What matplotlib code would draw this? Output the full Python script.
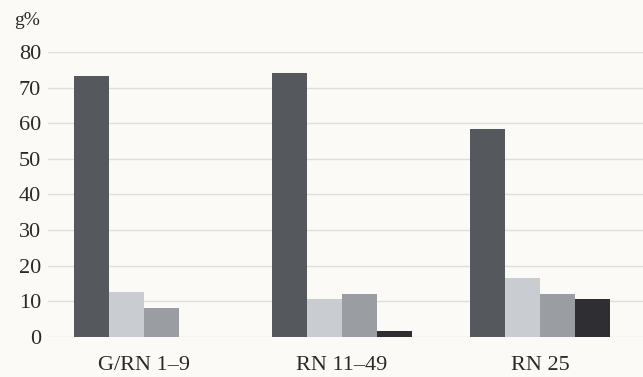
import numpy as np
import matplotlib
matplotlib.use("Agg")
from matplotlib import pyplot as plt

# ---------------- data ----------------
categories = ["G/RN 1–9", "RN 11–49", "RN 25"]
series_1 = [73.3, 74.1, 58.4]   # dunkelgrau
series_2 = [12.7, 10.6, 16.6]   # hellgrau
series_3 = [8.2, 12.0, 12.1]    # mittelgrau
series_4 = [0.0, 1.7, 10.6]     # schwarz
yticks = [0, 10, 20, 30, 40, 50, 60, 70, 80]

colors = ["#55595e", "#c9ccd0", "#9a9ea2", "#2f2f33"]
bg = "#fbfaf6"

plt.rcParams['font.family'] = ['Liberation Serif', 'DejaVu Serif']

fig = plt.figure(figsize=(6.43, 3.77), dpi=100, facecolor=bg)
ax = fig.add_axes([0.0747, 0.1061, 0.9253, 0.756])
ax.set_facecolor(bg)

gap = 1.66
x = np.arange(len(categories)) * (4 + gap)
for i, vals in enumerate([series_1, series_2, series_3, series_4]):
    ax.bar(x - 1.5 + i, vals, width=1.0, color=colors[i], zorder=3)

ax.set_ylim(0, 80)
ax.set_xlim(-2.74, x[-1] + 2.94)
ax.set_yticks(yticks)
ax.set_yticklabels([str(v) for v in yticks], fontsize=16, color="#2a2a2a")
ax.set_xticks(x)
ax.set_xticklabels(categories, fontsize=16, color="#2a2a2a")
ax.tick_params(length=0, pad=5)
ax.tick_params(axis='x', pad=14)
ax.yaxis.grid(True, color="#dedede", linewidth=1.0, zorder=0)
for s in ax.spines.values():
    s.set_visible(False)

fig.text(0.022, 0.945, "g%", fontsize=14, color="#2a2a2a", va="center")

fig.savefig("out.png", dpi=100, facecolor=bg)
